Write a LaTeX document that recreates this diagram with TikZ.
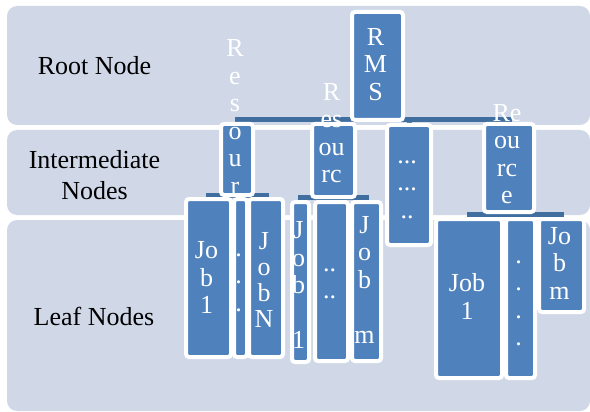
\documentclass[tikz,border=0pt]{standalone}
\usepackage{fontspec}
\setmainfont{Liberation Serif}
\definecolor{bandfill}{HTML}{D0D8E8}
\definecolor{nodefill}{HTML}{4F81BD}
\definecolor{linkblue}{HTML}{3F6E9F}
\pgfdeclarelayer{bands}
\pgfdeclarelayer{links}
\pgfsetlayers{bands,links,main}
\tikzset{
  band/.style={fill=bandfill, rounded corners=10pt},
  bandlabel/.style={font=\fontsize{26}{31.5}\selectfont, align=center, inner sep=0pt, text=black},
  unit/.style={fill=nodefill, draw=white, line width=4pt, rounded corners=3pt, inner sep=0pt},
  unittext/.style={text=white, font=\fontsize{26}{27.5}\selectfont, align=center, inner sep=0pt},
  link/.style={draw=linkblue, line width=5pt},
}
% \mkunit{name}{left}{top}{right}{bottom}: box given by its outer (white) edge
\newcommand\mkunit[5]{%
  \node[unit, anchor=north west,
        minimum width={#4pt-#2pt-4pt}, minimum height={#5pt-#3pt-4pt}]
        (#1) at ({#2+2},{#3+2}) {};}
\begin{document}
\begin{tikzpicture}[x=1pt, y=-1pt]
  \useasboundingbox (0,0) rectangle (590,412);

  % level bands
  \begin{pgfonlayer}{bands}
    \fill[band] (7,6) rectangle (590,125);
    \fill[band] (7,130) rectangle (590,215);
    \fill[band] (7,220) rectangle (590,411);
    \node[bandlabel] (lbl-root) at (94.5,65.5) {Root Node};
    \node[bandlabel] (lbl-mid)  at (94.5,175) {Intermediate\\Nodes};
    \node[bandlabel] (lbl-leaf) at (94,316.5) {Leaf Nodes};
  \end{pgfonlayer}

  % bus heights of the connectors
  \coordinate (bus1) at (0,119.5);
  \coordinate (bus2a) at (0,195);
  \coordinate (bus2b) at (0,197.5);
  \coordinate (bus2c) at (0,214.5);

  % root
  \mkunit{rms}{348}{8}{403}{120}
  \node[unittext] (rms-t) at (375.5,64.5) {R\\M\\S};

  % intermediate level
  \mkunit{res1}{217}{120}{253}{195}
  \mkunit{res2}{308}{120}{355}{197}
  \mkunit{more}{383}{121}{431}{245}
  \mkunit{res3}{480}{120}{534}{212}
  \node[unittext] (res1-t) at (235,116.8) {R\\e\\s\\o\\u\\r};
  \node[unittext] (res2-t) at (331.5,133.3) {R\\es\\ou\\rc};
  \node[unittext] (more-t) at (407,189.5) {...\\...\\..};
  \node[unittext] (res3-t) at (507,154.3) {Re\\ou\\rc\\e};

  % leaves
  \mkunit{ga1}{182}{195}{231}{357}
  \mkunit{ga2}{230}{195}{247}{357}
  \mkunit{ga3}{245}{195}{283}{357}
  \mkunit{gb1}{288}{198}{309}{362}
  \mkunit{gb2}{311}{198}{348}{361}
  \mkunit{gb3}{348}{198}{381}{361}
  \mkunit{gc1}{432}{215}{502}{378}
  \mkunit{gc2}{502}{215}{535}{378}
  \mkunit{gc3}{535}{215}{584}{312}

  \node[unittext] (ga1-t) at (206.5,277.5) {Jo\\b\\1};
  \node[unittext] (ga2-t) at (238.5,282.5) {.\\.\\.};
  \node[unittext, font=\fontsize{26}{26}\selectfont] (ga3-t) at (264,280) {J\\o\\b\\N};
  \node[unittext] (gb1-t) at (298.5,285) {J\\o\\b\\[27.5pt]1};
  \node[unittext] (gb2-t) at (329.5,284) {..\\..};
  \node[unittext] (gb3-t) at (364.5,279.6) {J\\o\\b\\[27.5pt]m};
  \node[unittext] (gc1-t) at (467,296.3) {Job\\1};
  \node[unittext] (gc2-t) at (518.5,303.5) {.\\.\\.\\.};
  \node[unittext] (gc3-t) at (559.5,263) {Jo\\b\\m};

  % connectors, kept under the boxes
  \begin{pgfonlayer}{links}
    \foreach \c in {res1,res2,more,res3}
      \draw[link] (rms.south) -- (rms.south |- bus1) -| (\c.north);
    \foreach \c in {ga1,ga2,ga3}
      \draw[link] (res1.south) -- (res1.south |- bus2a) -| (\c.north);
    \foreach \c in {gb1,gb2,gb3}
      \draw[link] (res2.south) -- (res2.south |- bus2b) -| (\c.north);
    \foreach \c in {gc1,gc2,gc3}
      \draw[link] (res3.south) -- (res3.south |- bus2c) -| (\c.north);
  \end{pgfonlayer}
\end{tikzpicture}
\end{document}
